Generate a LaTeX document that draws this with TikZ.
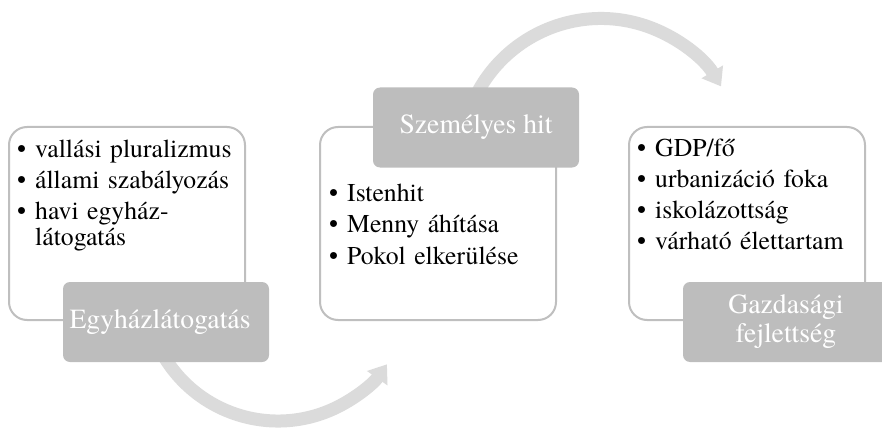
\documentclass[tikz,border=0pt]{standalone}
\usepackage{fontspec}
\setmainfont{texgyretermes}[Extension=.otf,UprightFont=*-regular]
\usetikzlibrary{arrows.meta,positioning}
\definecolor{boxline}{RGB}{191,191,191}
\definecolor{labelgray}{RGB}{189,189,189}
\definecolor{arcgray}{RGB}{219,219,219}
\newcommand{\listdot}{\makebox[18pt][l]{\textbullet}}
\begin{document}
\begin{tikzpicture}[x=1pt,y=1pt,
  outerbox/.style={draw=boxline,line width=2pt,fill=white,rounded corners=18pt,
    minimum width=236pt,minimum height=193pt},
  tagbox/.style={fill=labelgray,rounded corners=7pt,minimum width=206pt,minimum height=80pt,
    text=white,align=center,font=\fontsize{27.7}{29}\selectfont},
  bullets/.style={anchor=base west,inner sep=0pt,text width=225pt,align=left,
    font=\fontsize{25.7}{26.5}\selectfont},
  flow/.style={draw=arcgray,line width=13pt,-{Triangle[length=17pt,width=24pt]}}]
\useasboundingbox (0,0) rectangle (882,429);
% circular arrows, behind everything
\coordinate (lowc) at (278,141);
\coordinate (highc) at (601,270.5);
\draw[flow] ([shift={(205:133)}]lowc) arc[start angle=205,end angle=325,radius=133];
\draw[flow] ([shift={(160:140)}]highc) arc[start angle=160,end angle=31,radius=140];
% boxes
\node[outerbox] (egyhazbox) at (127,205.5) {};
\node[outerbox] (hitbox) at (438,205.5) {};
\node[outerbox] (gazdbox) at (747,205.5) {};
% labels
\node[tagbox] (egyhaz) at (166,107) {Egyházlátogatás\hspace*{12pt}};
\node[tagbox] (hit) at (476,301.5) {Személyes hit};
\node[tagbox] (gazd) at (786,107) {Gazdasági\\fejlettség};
% lists
\node[bullets] (egyhazlist) at ([shift={(9,-31)}]egyhazbox.north west)
  {\listdot vallási pluralizmus\\[4.5pt]\listdot állami szabályozás\\[4.5pt]
   \listdot havi egyház-\\\hspace*{18pt}látogatás};
\node[bullets] (hitlist) at ([shift={(-147,-33.5)}]hit.south)
  {\listdot Istenhit\\[5pt]\listdot Menny áhítása\\[5pt]\listdot Pokol elkerülése};
\node[bullets] (gazdlist) at ([shift={(9,-30.5)}]gazdbox.north west)
  {\listdot GDP/fő\\[4.5pt]\listdot urbanizáció foka\\[4.5pt]
   \listdot iskolázottság\\[4.5pt]\listdot várható élettartam};
\end{tikzpicture}
\end{document}
